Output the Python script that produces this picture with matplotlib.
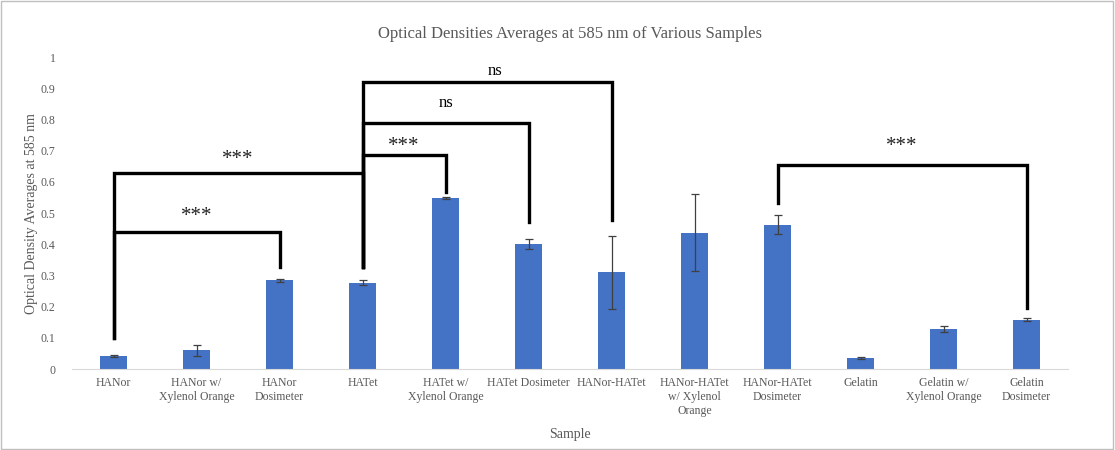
import numpy as np
import matplotlib.pyplot as plt
from matplotlib.patches import Rectangle

plt.rcParams['font.family'] = ['Liberation Serif', 'DejaVu Serif']

samples = ["HANor", "HANor w/\nXylenol Orange", "HANor\nDosimeter", "HATet",
           "HATet w/\nXylenol Orange", "HATet Dosimeter", "HANor-HATet",
           "HANor-HATet\nw/ Xylenol\nOrange", "HANor-HATet\nDosimeter", "Gelatin",
           "Gelatin w/\nXylenol Orange", "Gelatin\nDosimeter"]
od_means = [0.042, 0.060, 0.285, 0.277, 0.548, 0.402, 0.310, 0.437, 0.463, 0.035, 0.128, 0.158]
od_err = [0.003, 0.018, 0.005, 0.008, 0.004, 0.016, 0.118, 0.123, 0.031, 0.003, 0.010, 0.004]

# significance brackets: (left bar, right bar, bar height, left leg end, right leg end, label, label x, label y)
brackets = [
    (0, 2, 0.44, 0.10, 0.327, "***", 1.0, 0.50),
    (0, 3, 0.628, 0.10, 0.327, "***", 1.5, 0.685),
    (3, 4, 0.686, 0.327, 0.567, "***", 3.5, 0.727),
    (3, 5, 0.788, 0.327, 0.47, "ns", 4.0, 0.852),
    (3, 6, 0.92, 0.327, 0.478, "ns", 4.6, 0.955),
    (8, 11, 0.654, 0.532, 0.195, "***", 9.5, 0.727),
]

gray = '#595959'
fig = plt.figure(figsize=(11.15, 4.5), dpi=100)
ax = fig.add_axes([0.0646, 0.18, 0.8934, 0.693])

x = np.arange(len(samples))
ax.bar(x, od_means, width=0.33, color='#4472C4', zorder=2)
ax.errorbar(x, od_means, yerr=od_err, fmt='none', ecolor='#404040',
            elinewidth=0.9, capsize=3, capthick=0.9, zorder=3)

for a, b, h, la, lb, txt, tx, ty in brackets:
    ax.plot([a, a, b, b], [la, h, h, lb], color='black', lw=2.4,
            solid_joinstyle='miter', zorder=4)
    if txt == 'ns':
        ax.text(tx, ty, txt, ha='center', va='center', fontsize=12, color='black')
    else:
        ax.text(tx, ty - 0.012, txt, ha='center', va='center', fontsize=15,
                color='#222222')

ax.set_xlim(-0.5, len(samples) - 0.5)
ax.set_ylim(0, 1)
ax.set_yticks(np.arange(0, 1.01, 0.1))
ax.set_yticklabels(["0"] + [f"{v:.1f}" for v in np.arange(0.1, 0.95, 0.1)] + ["1"])
ax.set_xticks(x)
ax.set_xticklabels(samples, linespacing=1.2)
ax.tick_params(axis='both', length=0, labelsize=8.5, colors=gray, pad=6)
ax.tick_params(axis='y', pad=12)
for s in ['top', 'right', 'left']:
    ax.spines[s].set_visible(False)
ax.spines['bottom'].set_color('#d9d9d9')

ax.set_xlabel("Sample", fontsize=10, color=gray, labelpad=8)
ax.set_ylabel("Optical Density Averages at 585 nm", fontsize=10, color=gray, labelpad=2)
ax.set_title("Optical Densities Averages at 585 nm of Various Samples",
             fontsize=12, color=gray, pad=14)

fig.patches.append(Rectangle((0.001, 0.002), 0.997, 0.995, transform=fig.transFigure,
                             fill=False, edgecolor='#bfbfbf', lw=1))

fig.savefig('out.png', dpi=100)
